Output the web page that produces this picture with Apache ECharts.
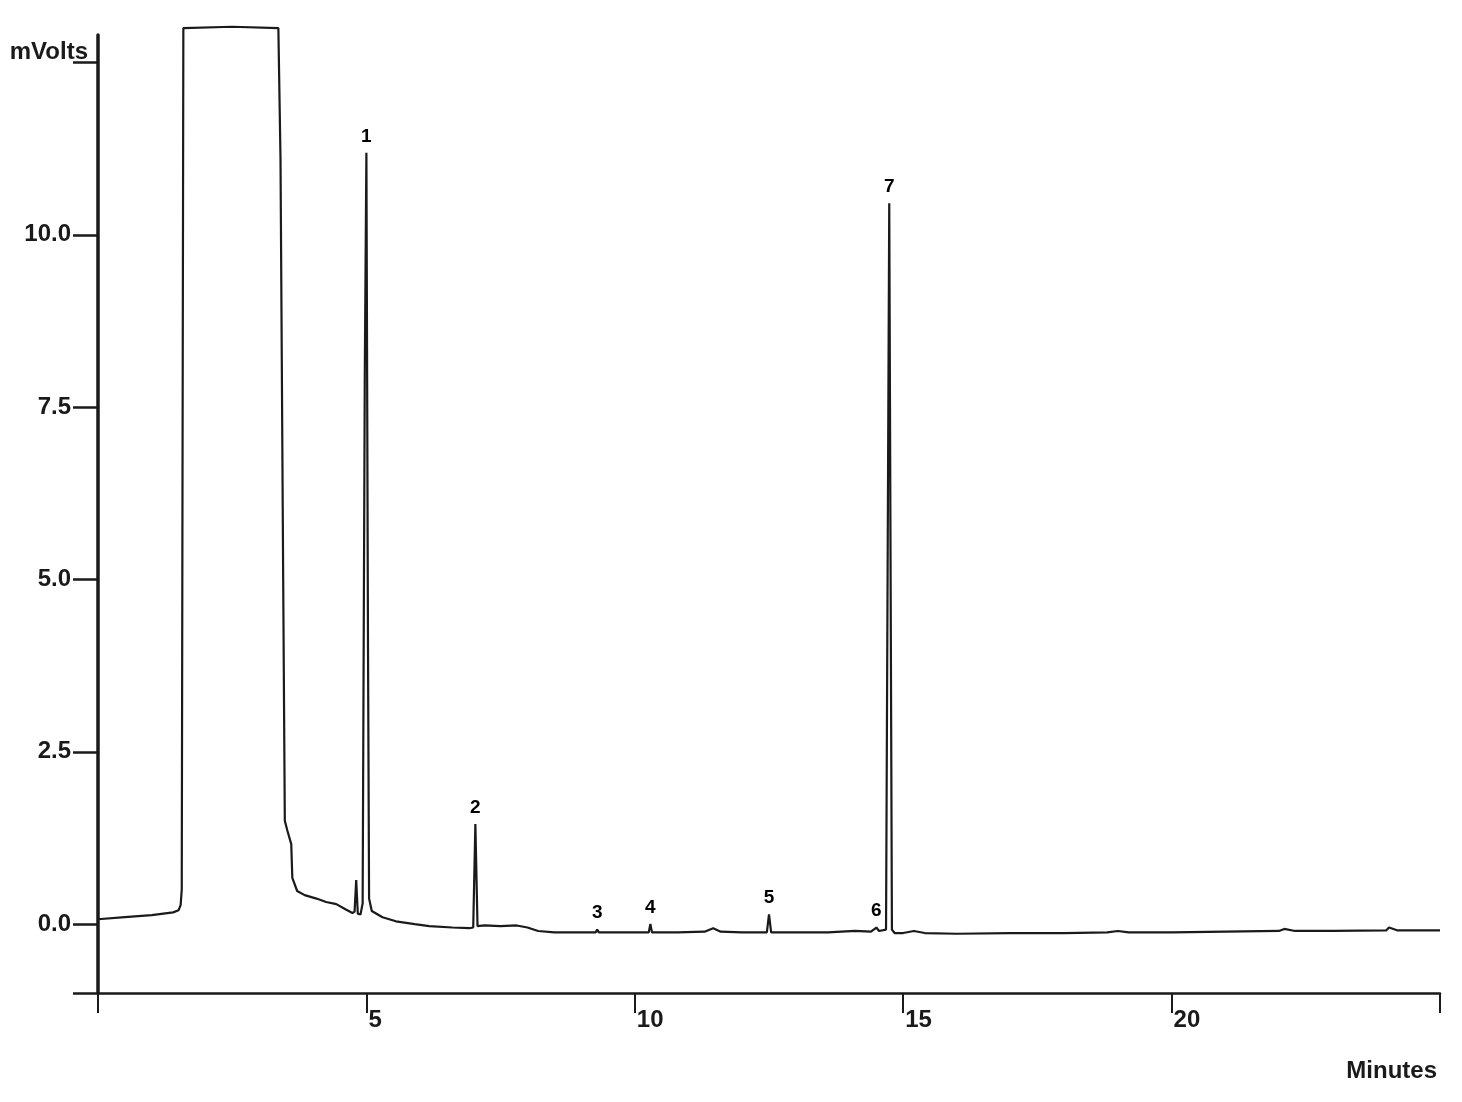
<!DOCTYPE html>
<html>
<head>
<meta charset="utf-8">
<title>Chromatogram</title>
<script src="https://cdn.jsdelivr.net/npm/echarts@6/dist/echarts.min.js"></script>
<style>
    html, body { margin: 0; padding: 0; background: #fff; }
    #chart { width: 1462px; height: 1102px; }
</style>
</head>
<body>
<div id="chart"></div>
<script>
// detector trace (minutes / mVolts)
var traceTime = [0, 0.5, 1.0, 1.4, 1.5, 1.54, 1.56, 1.59, 2.5, 3.36, 3.4, 3.45, 3.48, 3.53, 3.6, 3.62, 3.71, 3.85, 4.07, 4.25, 4.44, 4.6, 4.74, 4.78, 4.81, 4.84, 4.89, 4.93, 4.97, 5.0, 5.03, 5.05, 5.1, 5.3, 5.55, 5.9, 6.17, 6.6, 6.92, 6.99, 7.03, 7.07, 7.2, 7.5, 7.8, 8.0, 8.2, 8.5, 9.0, 9.27, 9.3, 9.33, 9.8, 10.26, 10.29, 10.32, 10.8, 11.3, 11.46, 11.6, 12.0, 12.46, 12.5, 12.54, 13.0, 13.6, 14.1, 14.4, 14.5, 14.55, 14.68, 14.74, 14.79, 14.84, 15.0, 15.2, 15.4, 16.0, 17.0, 18.0, 18.8, 19.0, 19.2, 20.0, 21.0, 22.0, 22.1, 22.3, 23.0, 24.0, 24.05, 24.2, 25.0];
var traceSignal = [0.07, 0.1, 0.13, 0.17, 0.2, 0.28, 0.5, 13.0, 13.02, 13.0, 11.1, 5.0, 1.5, 1.35, 1.16, 0.67, 0.48, 0.42, 0.37, 0.32, 0.29, 0.22, 0.16, 0.18, 0.64, 0.15, 0.14, 0.3, 8.0, 11.19, 4.0, 0.37, 0.19, 0.1, 0.04, 0.0, -0.03, -0.05, -0.06, -0.05, 1.45, -0.03, -0.02, -0.03, -0.02, -0.05, -0.1, -0.12, -0.12, -0.12, -0.08, -0.12, -0.12, -0.12, 0.0, -0.12, -0.12, -0.11, -0.06, -0.11, -0.12, -0.12, 0.14, -0.12, -0.12, -0.12, -0.1, -0.11, -0.05, -0.1, -0.08, 10.46, -0.08, -0.13, -0.13, -0.1, -0.13, -0.14, -0.13, -0.13, -0.12, -0.1, -0.12, -0.12, -0.11, -0.1, -0.07, -0.1, -0.1, -0.09, -0.05, -0.09, -0.09];

// numbered peaks
var peakNames = ['1', '2', '3', '4', '5', '6', '7'];
var peakTime = [5.0, 7.03, 9.3, 10.29, 12.5, 14.5, 14.74];
var peakHeight = [11.19, 1.45, -0.08, 0.0, 0.14, -0.05, 10.46];

// axes
var xTickValues = [0, 5, 10, 15, 20, 25];
var xLabelValues = [5, 10, 15, 20];
var yTickValues = [-1, 0, 2.5, 5, 7.5, 10, 12.5];
var yLabelValues = [0, 2.5, 5, 7.5, 10];

var ink = '#1a1a1a';
var font = 'Liberation Sans';

var trace = traceTime.map(function (t, i) { return [t, traceSignal[i]]; });
var peaks = peakTime.map(function (t, i) { return { name: peakNames[i], value: [t, peakHeight[i]] }; });

var chart = echarts.init(document.getElementById('chart'));
chart.setOption({
    animation: false,
    backgroundColor: '#fff',
    grid: { left: 98, right: 22, top: 35, bottom: 109 },
    xAxis: {
        type: 'value',
        min: 0,
        max: 25,
        name: 'Minutes',
        nameLocation: 'end',
        nameGap: 0,
        nameTextStyle: {
            fontFamily: font, fontWeight: 'bold', fontSize: 24, color: ink,
            align: 'right', verticalAlign: 'top', padding: [66, 3, 0, 0]
        },
        axisLine: { onZero: false, lineStyle: { color: ink, width: 2.5 } },
        axisTick: { customValues: xTickValues, length: 20, lineStyle: { color: ink, width: 2 } },
        axisLabel: {
            customValues: xLabelValues,
            fontFamily: font, fontWeight: 'bold', fontSize: 24, color: ink,
            align: 'left', margin: 15, padding: [0, 0, 0, 2]
        },
        splitLine: { show: false }
    },
    yAxis: {
        type: 'value',
        min: -1,
        max: 12.9,
        name: 'mVolts',
        nameLocation: 'end',
        nameGap: -17,
        nameTextStyle: {
            fontFamily: font, fontWeight: 'bold', fontSize: 24, color: ink,
            align: 'right', verticalAlign: 'middle', padding: [0, 10, 0, 0]
        },
        axisLine: { show: true, onZero: false, lineStyle: { color: ink, width: 3.5 } },
        axisTick: { show: true, customValues: yTickValues, length: 25, lineStyle: { color: ink, width: 2.5 } },
        axisLabel: {
            customValues: yLabelValues,
            margin: 27,
            fontFamily: font, fontWeight: 'bold', fontSize: 24, color: ink,
            formatter: function (v) { return v.toFixed(1); }
        },
        splitLine: { show: false }
    },
    series: [
        {
            type: 'line',
            data: trace,
            showSymbol: false,
            clip: false,
            lineStyle: { color: ink, width: 2.2 }
        },
        {
            type: 'scatter',
            data: peaks,
            symbolSize: 0,
            clip: false,
            itemStyle: { opacity: 1 },
            label: {
                show: true,
                position: 'top',
                distance: 7,
                formatter: '{b}',
                opacity: 1,
                fontFamily: font, fontWeight: 'bold', fontSize: 19, color: '#000'
            }
        }
    ]
});
</script>
</body>
</html>
